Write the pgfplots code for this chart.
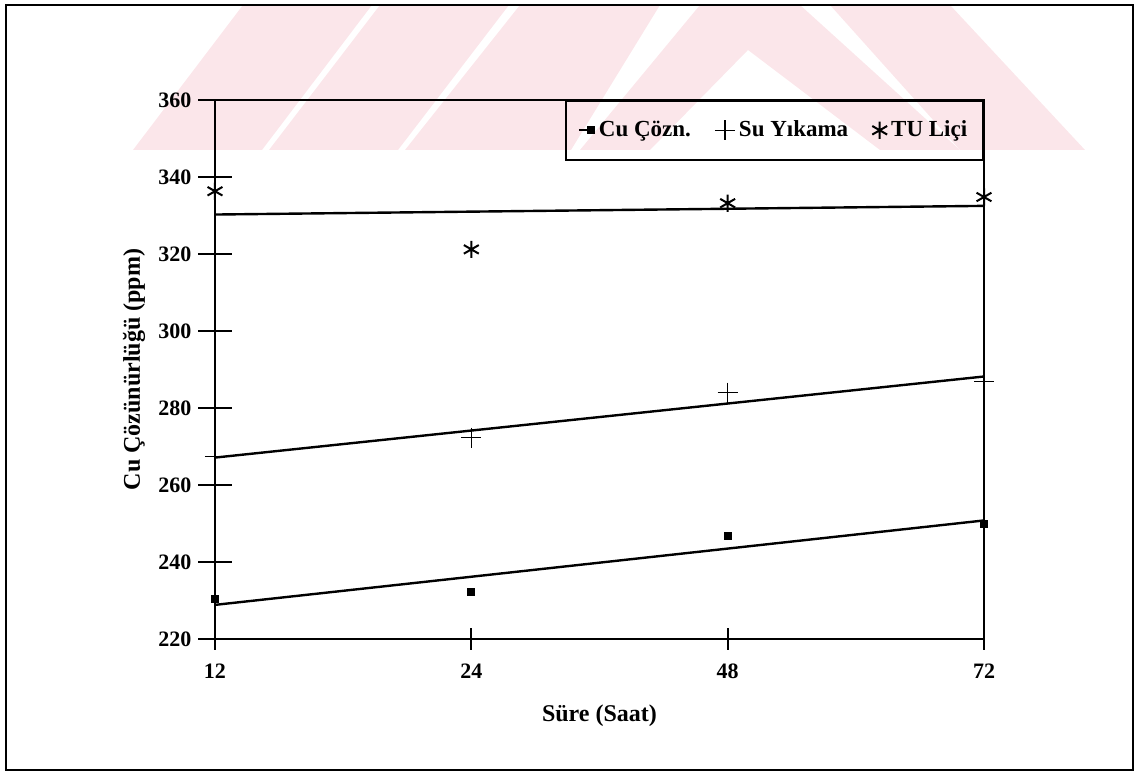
\documentclass[border=0pt]{standalone}
\usepackage{fontspec}
\setmainfont{Liberation Serif}
\usepackage{pgfplots}
\usepackage{pgfplotstable}
\pgfplotsset{compat=1.18}

\pgfplotstableread{
x cu su tu
0 230.4 267.4 336.3
1 232.2 272.3 321.2
2 246.8 284.0 333.2
3 249.9 286.9 334.8
}\data

\definecolor{wm}{RGB}{251,230,234}

\begin{document}
\begin{tikzpicture}
\useasboundingbox (0,0) rectangle (574pt,387.5pt);
\begin{scope}[x=0.5pt,y=-0.5pt,shift={(0pt,387.5pt)}]
  \fill[wm] (133,150) -- (262,150) -- (372,5) -- (243,5) -- cycle;
  \fill[wm] (269,150) -- (398,150) -- (509,5) -- (380,5) -- cycle;
  \fill[wm] (405,150) -- (571,150) -- (660,5) -- (520,5) -- cycle;
  \fill[wm] (580,150) -- (700,5) -- (800,5) -- (960,150) -- (880,150) -- (748,50) -- (650,150) -- cycle;
  \fill[wm] (830,5) -- (950,5) -- (1085,150) -- (960,150) -- cycle;
  \draw[line width=1pt] (6,5) rectangle (1133,770);
\end{scope}
\begin{axis}[
  at={(107.5pt,68pt)}, anchor=south west,
  scale only axis, width=384.5pt, height=269.5pt,
  xmin=0, xmax=3, ymin=220, ymax=360,
  xtick={0,1,2,3}, xticklabels={12,24,48,72},
  ytick={220,240,...,360},
  xtick pos=bottom, ytick pos=left,
  tick align=center, major tick length=16.5pt,
  xtick style={/pgfplots/major tick length=11pt},
  axis line style={line width=1pt},
  tick style={line width=1pt, black},
  /pgf/number format/assume math mode=true,
  every tick label/.append style={font=\fontsize{11}{13}\selectfont\bfseries},
  xticklabel style={yshift=-0.5pt},
  yticklabel style={xshift=0pt},
  xlabel={Süre (Saat)}, ylabel={Cu Çözünürlüğü (ppm)},
  label style={font=\fontsize{12}{14}\selectfont\bfseries},
  xlabel style={at={(axis description cs:0.5,-0.1429)}, anchor=center},
  ylabel style={at={(axis description cs:-0.1053,0.5)}, anchor=center},
  clip=false,
  legend columns=3,
  legend style={at={(1,1)}, anchor=north east, draw=black, line width=0.8pt, fill=none,
    font=\fontsize{11.5}{13}\selectfont\bfseries, inner xsep=6pt, inner ysep=8pt,
    /tikz/every even column/.append style={column sep=10pt}},
]
\addplot[only marks, mark=square*, mark size=1.75pt, black,
  legend image code/.code={\draw[line width=1pt] (0pt,0pt) -- (6pt,0pt);
    \fill (4.3pt,-1.7pt) rectangle (7.7pt,1.7pt);}] table[x=x, y=cu] {\data};
\addlegendentry{Cu Çözn.}
\addplot[only marks, mark=+, mark size=5pt, line width=0.6pt, black] table[x=x, y=su] {\data};
\addlegendentry{Su Yıkama}
\addplot[only marks, mark=asterisk, mark size=4.3pt, line width=1pt, black] table[x=x, y=tu] {\data};
\addlegendentry{TU Liçi}
\addplot[black, line width=1.2pt, no marks, forget plot] table[x=x, y={create col/linear regression={y=cu}}] {\data};
\addplot[black, line width=1.2pt, no marks, forget plot] table[x=x, y={create col/linear regression={y=su}}] {\data};
\addplot[black, line width=1.2pt, no marks, forget plot] table[x=x, y={create col/linear regression={y=tu}}] {\data};
\end{axis}
\end{tikzpicture}
\end{document}
